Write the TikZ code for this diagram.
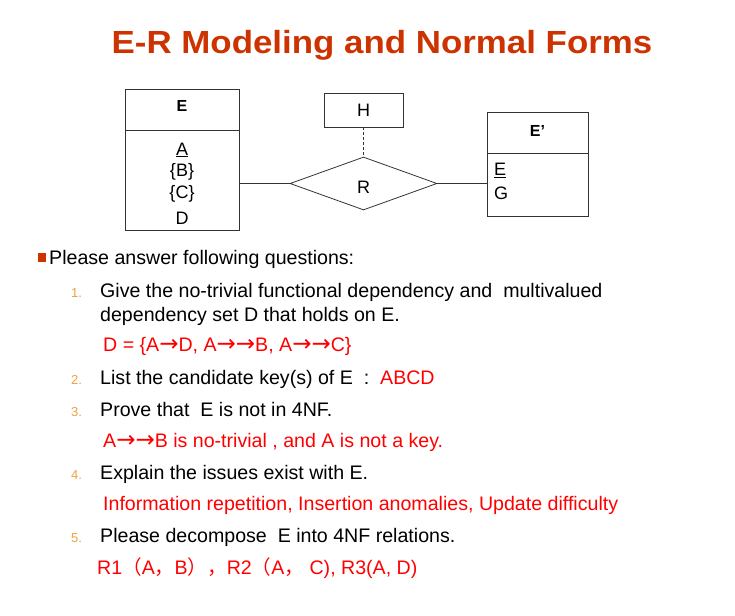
\documentclass[tikz,border=0pt]{standalone}
\usepackage{fontspec}
\setmainfont{Liberation Sans}
\newfontfamily\titlefont{Liberation Sans}[FakeStretch=1.09]
\newfontfamily\cjk{Noto Sans CJK SC}
\newfontfamily\arrfont{DejaVu Sans}
\newcommand\myarr{{\fontsize{23}{23}\arrfont →}}
\usetikzlibrary{shapes.geometric}
\definecolor{titlered}{HTML}{CC3300}
\definecolor{numorange}{HTML}{F0A040}
\definecolor{ansred}{HTML}{FF0000}
\begin{document}
\begin{tikzpicture}[x=1pt,y=-1pt,
  ent/.style={draw=black!80,line width=0.8pt,rectangle,inner sep=0pt},
  attr/.style={font=\fontsize{18}{20}\selectfont,inner sep=0pt},
  body/.style={font=\fontsize{19.6}{22}\selectfont,anchor=base west,inner sep=0pt},
  num/.style={font=\fontsize{13}{15}\selectfont,text=numorange,anchor=base west,inner sep=0pt},
  ans/.style={font=\fontsize{19.6}{22}\selectfont,text=ansred,anchor=base west,inner sep=0pt},
  conn/.style={draw=black!80,line width=0.8pt}]
\useasboundingbox (0,0) rectangle (735,615);
% title
\node[font=\fontsize{32}{34}\titlefont\bfseries,text=titlered,anchor=base,inner sep=0pt] (title) at (382,54) {E-R Modeling and Normal Forms};
% entity E
\node[ent,minimum width=114pt,minimum height=141pt] (E) at (182,159.5) {};
\draw[conn] (125,130) coordinate (Ed1) -- (239,130) coordinate (Ed2);
\node[font=\fontsize{16}{18}\selectfont\bfseries,inner sep=0pt] (Et) at (182,106) {E};
\node[attr] (Ea) at (182,150) {\underline{A}};
\node[attr] (Eb) at (182,172) {\{B\}};
\node[attr] (Ec) at (182,194) {\{C\}};
\node[attr] (Ed) at (182,218) {D};
% H
\node[ent,minimum width=79pt,minimum height=34pt] (H) at (363.5,110) {};
\node[attr] (Ht) at (363.5,110.5) {H};
% diamond R
\node[draw=black!80,line width=0.8pt,diamond,aspect=2.77,minimum width=147pt,minimum height=53pt,inner sep=0pt] (R) at (363.5,183.5) {};
\node[attr] (Rt) at (363.5,187) {R};
% entity E'
\node[ent,minimum width=101pt,minimum height=104pt] (F) at (537.5,164) {};
\draw[conn] (487,153) coordinate (Fd1) -- (588,153) coordinate (Fd2);
\node[font=\fontsize{16}{18}\selectfont\bfseries,inner sep=0pt] (Ft) at (537.5,131) {E’};
\node[attr,anchor=west] (Fe) at (494,170.5) {\underline{E}};
\node[attr,anchor=west] (Fg) at (494,193.5) {G};
% connectors
\draw[conn] (R.west) -- (R.west -| E.east);
\draw[conn] (R.east) -- (R.east -| F.west);
\draw[conn,dash pattern=on 3pt off 2pt,line width=0.6pt] (H.south) -- (R.north);
% text
\node[fill=titlered,minimum size=8.5pt,inner sep=0pt] (bullet) at (42,257.5) {};
\node[body] (q0) at (49,264) {Please answer following questions:};
\node[num] (n1) at (71,297) {1.};
\node[body] (q1) at (100,297) {Give the no-trivial functional dependency and\ \ multivalued};
\node[body] (q1b) at (100,321) {dependency set D that holds on E.};
\node[ans] (a1) at (103,351) {D = \{A\myarr D, A\myarr\myarr B, A\myarr\myarr C\}};
\node[num] (n2) at (71,384) {2.};
\node[body] (q2) at (100,384) {List the candidate key(s) of E\ \ :\ \ \textcolor{ansred}{ABCD}};
\node[num] (n3) at (71,416) {3.};
\node[body] (q3) at (100,416) {Prove that\ \ E is not in 4NF.};
\node[ans] (a3) at (103,447) {A\myarr\myarr B is no-trivial , and A is not a key.};
\node[num] (n4) at (71,479) {4.};
\node[body] (q4) at (100,479) {Explain the issues exist with E.};
\node[ans] (a4) at (103,510) {Information repetition, Insertion anomalies, Update difficulty};
\node[num] (n5) at (71,542) {5.};
\node[body] (q5) at (100,542) {Please decompose\ \ E into 4NF relations.};
\node[ans] (a5) at (97,574) {R1{\cjk （}A{\cjk ，}B{\cjk ）}{\cjk ，}R2{\cjk （}A{\cjk ，} C), R3(A, D)};
\end{tikzpicture}
\end{document}
